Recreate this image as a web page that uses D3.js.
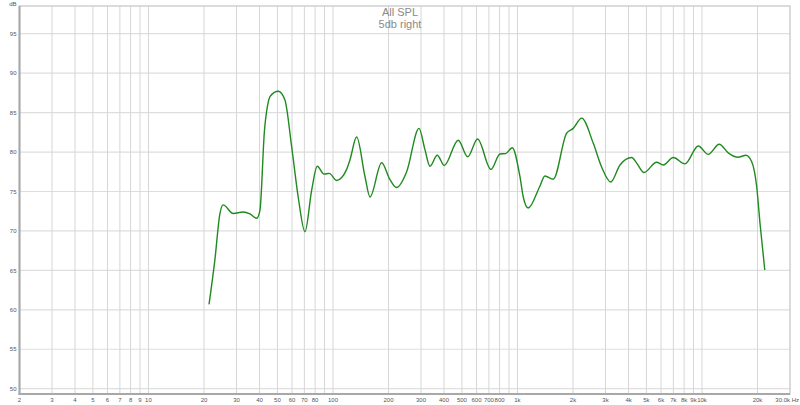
<!DOCTYPE html>
<html><head><meta charset="utf-8">
<script src="https://cdn.jsdelivr.net/npm/d3@7"></script>
<style>body{margin:0;background:#fff}svg{display:block}</style>
</head><body><svg id="c" width="800" height="405"></svg>
<script>
const title = "All SPL";
const subtitle = "5db right";
const freqs = [21.3,22.9,24.4,25.4,28.8,32.6,35.5,38.6,40.2,42.5,44.3,45.8,50.5,54.9,59.7,64.8,70.5,76.7,82.2,89.4,95.5,104.7,118.6,123.6,134.4,149.1,158.7,183.6,203.7,221,250.9,292.6,315.2,335.5,367.6,401,477.6,537,608,718,803.8,863,937,1031,1075,1143,1324,1409,1563,1848,2006,2228,2576,2858,3200,3594,4160,4426,4850,5680,6170,6990,8090,9550,10800,12400,13880,15700,17300,18580,19800,20630,21900];
const spl = [60.7,66.3,72.2,73.3,72.2,72.4,72.15,71.6,72.6,82.6,86.0,87.1,87.7,86.6,80.7,74.3,69.9,75.2,78.2,77.2,77.3,76.4,77.8,79.0,81.9,76.9,74.3,78.65,76.5,75.5,77.5,83.0,80.3,78.2,79.6,78.3,81.5,79.4,81.65,77.8,79.75,79.8,80.55,76.9,74.3,72.9,75.7,76.97,76.55,82.4,83.0,84.3,81.1,78.1,76.2,78.36,79.3,78.6,77.4,78.7,78.36,79.3,78.5,80.77,79.7,80.98,79.9,79.33,79.6,78.8,75.6,70.97,65.05];
const xGrid = [2,3,4,5,6,7,8,9,10,20,30,40,50,60,70,80,90,100,200,300,400,500,600,700,800,900,1000,2000,3000,4000,5000,6000,7000,8000,9000,10000,20000];
const xTickVals = [2,3,4,5,6,7,8,9,10,20,30,40,50,60,70,80,100,200,300,400,500,600,700,800,1000,2000,3000,4000,5000,6000,7000,8000,9000,10000,20000,30000];
const xTickLabels = ["2","3","4","5","6","7","8","9","10","20","30","40","50","60","70","80","100","200","300","400","500","600","700","800","1k","2k","3k","4k","5k","6k","7k","8k","9k","10k","20k","30.0k Hz"];
const yTicks = [50,55,60,65,70,75,80,85,90,95];

const svg = d3.select("#c");
const L = 19.5, R = 790, T = 6, B = 394;
const x = d3.scaleLog().domain([2, 30000]).range([L, R]);
const y = d3.scaleLinear().domain([50, 95]).range([388.7, 33.7]);

// grid
svg.append("g").selectAll("line").data(yTicks).join("line")
  .attr("x1", L).attr("x2", R).attr("y1", d => y(d)).attr("y2", d => y(d))
  .attr("stroke", "#dedede").attr("stroke-width", 1.2);
svg.append("g").selectAll("line").data(xGrid).join("line")
  .attr("x1", d => x(d)).attr("x2", d => x(d)).attr("y1", T).attr("y2", B)
  .attr("stroke", "#d6d6d6").attr("stroke-width", 1);

// frame
svg.append("rect").attr("x", L).attr("y", T).attr("width", R - L).attr("height", B - T)
  .attr("fill", "none").attr("stroke", "#cfcfcf").attr("stroke-width", 1.5);
svg.append("line").attr("x1", L).attr("x2", L).attr("y1", T).attr("y2", B + 1)
  .attr("stroke", "#a8a8a8").attr("stroke-width", 2);
svg.append("line").attr("x1", L - 1).attr("x2", R).attr("y1", B).attr("y2", B)
  .attr("stroke", "#a8a8a8").attr("stroke-width", 2);

// tick labels
const font = "Liberation Sans, Arial, sans-serif";
svg.append("g").selectAll("text").data(xTickVals).join("text")
  .attr("x", (d, i) => i === xTickVals.length - 1 ? 799 : x(d))
  .attr("y", 402)
  .attr("text-anchor", (d, i) => i === xTickVals.length - 1 ? "end" : "middle")
  .attr("font-family", font).attr("font-size", 6).attr("fill", "#555")
  .text((d, i) => xTickLabels[i]);
svg.append("g").selectAll("text").data(yTicks).join("text")
  .attr("x", 16.5).attr("y", d => y(d) + 2.2)
  .attr("text-anchor", "end")
  .attr("font-family", font).attr("font-size", 6).attr("fill", "#555")
  .text(d => d);
svg.append("text").attr("x", 16.5).attr("y", 5.5).attr("text-anchor", "end")
  .attr("font-family", font).attr("font-size", 6).attr("fill", "#555").text("dB");

// title
svg.append("text").attr("x", 400).attr("y", 16).attr("text-anchor", "middle")
  .attr("font-family", font).attr("font-size", 11).attr("fill", "#8a8a8a").text(title);
svg.append("text").attr("x", 400).attr("y", 27.5).attr("text-anchor", "middle")
  .attr("font-family", font).attr("font-size", 11).attr("fill", "#8a8a8a").text(subtitle);

// curve
const pts = freqs.map((f, i) => [f, spl[i]]);
const line = d3.line().x(d => x(d[0])).y(d => y(d[1])).curve(d3.curveMonotoneX);
svg.append("path").datum(pts).attr("d", line)
  .attr("fill", "none").attr("stroke", "#1f8a1f").attr("stroke-width", 1.4);
</script>
</body></html>
